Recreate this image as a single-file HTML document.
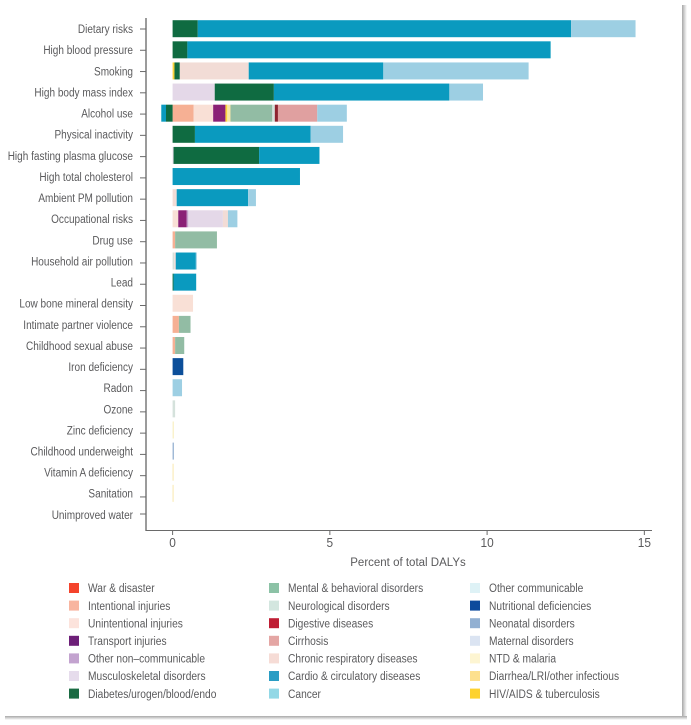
<!DOCTYPE html>
<html lang="en">
<head>
<meta charset="utf-8">
<title>Percent of total DALYs by risk factor</title>
<style>
  html, body { margin: 0; padding: 0; background: #fff; width: 691px; height: 725px; overflow: hidden; }
  #chart { position: absolute; left: 0; top: 0; filter: blur(0.35px); }
  text { font-family: "Liberation Sans", sans-serif; fill: #5a5a5c; }
</style>
</head>
<body>
<svg id="chart" width="691" height="725" viewBox="0 0 691 725" xmlns="http://www.w3.org/2000/svg">
  <defs>
    <linearGradient id="shadow-right" x1="0" x2="1" y1="0" y2="0">
      <stop offset="0" stop-color="#a8a8a8"/><stop offset="1" stop-color="#ffffff"/>
    </linearGradient>
    <linearGradient id="shadow-bottom" x1="0" x2="0" y1="0" y2="1">
      <stop offset="0" stop-color="#a8a8a8"/><stop offset="1" stop-color="#ffffff"/>
    </linearGradient>
  </defs>
  <rect x="682" y="5" width="5" height="714" fill="url(#shadow-right)"/>
  <rect x="5" y="716" width="682" height="4" fill="url(#shadow-bottom)"/>
  <g id="bars"></g>
  <g id="axes"></g>
  <g id="legend"></g>
</svg>
<script>
const risks = ["Dietary risks","High blood pressure","Smoking","High body mass index","Alcohol use","Physical inactivity","High fasting plasma glucose","High total cholesterol","Ambient PM pollution","Occupational risks","Drug use","Household air pollution","Lead","Low bone mineral density","Intimate partner violence","Childhood sexual abuse","Iron deficiency","Radon","Ozone","Zinc deficiency","Childhood underweight","Vitamin A deficiency","Sanitation","Unimproved water"];
const xTicks = [0, 5, 10, 15];
const xTitle = "Percent of total DALYs";

// One value per risk, in the order of `risks` (percent of total DALYs).
const intentional   = [0,0,0,0,0.67,0,0,0,0,0,0.08,0,0,0,0.20,0.08,0,0,0,0,0,0,0,0];
const unintentional = [0,0,0,0,0.62,0,0,0,0,0.18,0,0,0,0.65,0,0,0,0,0,0,0,0,0,0];
const transport     = [0,0,0,0,0.39,0,0,0,0,0.27,0,0,0,0,0,0,0,0,0,0,0,0,0,0];
const otherNcd      = [0,0,0,0,0,0,0,0,0,0.05,0,0,0,0,0,0,0,0,0,0,0,0,0,0];
const musculo       = [0,0,0,1.34,0,0,0.03,0,0,1.10,0,0,0,0,0,0,0,0,0,0,0,0,0,0];
const hiv           = [0,0,0.06,0,0.06,0,0,0,0,0,0,0,0,0,0,0,0,0,0,0,0,0,0,0];
const diarrhea      = [0,0,0,0,0.10,0,0,0,0,0,0,0,0,0,0,0,0,0,0,0,0,0.03,0.03,0];
const diabetes      = [0.80,0.47,0.17,1.88,-0.21,0.71,2.72,0,0,0,0,0,0.03,0,0,0,0,0,0,0,0,0,0,0];
const mental        = [0,0,0,0,1.33,0,0,0,0,0,1.33,0,0,0,0.37,0.29,0,0,0,0,0,0,0,0];
const neuro         = [0,0,0,0,0.08,0,0,0,0,0,0,0.05,0,0,0,0,0,0,0.08,0,0,0,0,0];
const digestive     = [0,0,0,0,0.10,0,0,0,0,0,0,0,0,0,0,0,0,0,0,0,0,0,0,0];
const cirrhosis     = [0,0,0,0,1.25,0,0,0,0,0,0,0,0,0,0,0,0,0,0,0,0,0,0,0];
const chronicResp   = [0,0,2.19,0,0,0,0,0,0.13,0.16,0,0.05,0,0,0,0,0,0,0,0,0,0,0,0];
const cardio        = [11.87,11.55,4.28,5.58,-0.15,3.68,1.92,4.05,2.27,0,0,0.64,0.72,0,0,0,0,0,0,0,0,0,0,0];
const cancer        = [2.05,0,4.62,1.07,0.94,1.03,0,0,0.25,0.30,0,0.03,0,0,0,0,0,0.30,0,0,0,0,0,0];
const nutritional   = [0,0,0,0,0,0,0,0,0,0,0,0,0,0,0,0,0.34,0,0,0,0,0,0,0];
const neonatal      = [0,0,0,0,0,0,0,0,0,0,0,0,0,0,0,0,0,0,0,0,0.04,0,0,0];
const ntd           = [0,0,0,0,0,0,0,0,0,0,0,0,0,0,0,0,0,0,0,0.04,0,0,0,0];

const stackOrder = [
  [intentional,"#f6b094"],[unintentional,"#f9e0d6"],[transport,"#8a2176"],[otherNcd,"#c3a0cb"],
  [musculo,"#e4d8e8"],[hiv,"#fad33c"],[diarrhea,"#f8e7a8"],[diabetes,"#0f6b41"],
  [mental,"#92bca4"],[neuro,"#d5e2dc"],[digestive,"#8e2430"],[cirrhosis,"#e0a0a0"],
  [chronicResp,"#f2dcd6"],[cardio,"#0a9abf"],[cancer,"#9dcfe3"],[nutritional,"#0c4f9a"],
  [neonatal,"#92aecf"],[ntd,"#f9f0c4"]
];

const legendLabels = ["War & disaster","Intentional injuries","Unintentional injuries","Transport injuries","Other non\u2013communicable","Musculoskeletal disorders","Diabetes/urogen/blood/endo","Mental & behavioral disorders","Neurological disorders","Digestive diseases","Cirrhosis","Chronic respiratory diseases","Cardio & circulatory diseases","Cancer","Other communicable","Nutritional deficiencies","Neonatal disorders","Maternal disorders","NTD & malaria","Diarrhea/LRI/other infectious","HIV/AIDS & tuberculosis"];
const legendColors = ["#f4432c","#f8b5a0","#fce3dc","#6d1f78","#c3a3cf","#e6dcec","#1a6b43","#8cc2a6","#d3e6df","#bf1e34","#e4a6a4","#f6dcd6","#2a9dc4","#92d8e6","#def2f6","#0c4a9c","#92b0d2","#dbe4f2","#fdf5d2","#fde08e","#fdd22f"];

const NS = "http://www.w3.org/2000/svg";
const xScale = v => 172.6 + v * 31.45;
const yScale = i => 28.7 + i * 21.12;
const tickY = i => (i === risks.length - 1 ? 514 : 29 + i * 21.27);
const BAR_H = 17;
function make(tag, attrs, parent) {
  const el = document.createElementNS(NS, tag);
  for (const k in attrs) el.setAttribute(k, attrs[k]);
  parent.appendChild(el);
  return el;
}
function squeezed(x, y, sx, size, anchor, parent) {
  return make("text", {transform: `translate(${x} ${y}) scale(${sx} 1)`, "text-anchor": anchor, "font-size": size}, parent);
}

// Bars
const barsG = document.getElementById("bars");
risks.forEach((risk, r) => {
  let pos = 0, neg = 0;
  stackOrder.forEach(([series, color]) => {
    const v = series[r];
    if (!v) return;
    let a, b;
    if (v > 0) { a = pos; pos += v; b = pos; } else { b = neg; neg += v; a = neg; }
    const seg = make("rect", {x: xScale(a), y: yScale(r) - BAR_H / 2, width: Math.max(xScale(b) - xScale(a), 0.5), height: BAR_H, fill: color}, barsG);
    
    
  });
});

// Axes
const axesG = document.getElementById("axes");
const yLine = make("line", {x1: 146, x2: 146, y1: 18, y2: 531, stroke: "#9b9b9b", "stroke-width": 2}, axesG);


const xLine = make("line", {x1: 146, x2: 652, y1: 530.5, y2: 530.5, stroke: "#6a6a6a", "stroke-width": 1}, axesG);



risks.forEach((risk, r) => {
  const tick = make("line", {x1: 140, x2: 146, y1: tickY(r), y2: tickY(r), stroke: "#6a6a6a", "stroke-width": 1}, axesG);
  
  
  const label = squeezed(133, yScale(r) + 4.4, 0.822, 12.2, "end", axesG);
  label.textContent = risk;
  
  
});

xTicks.forEach(t => {
  const tick = make("line", {x1: xScale(t), x2: xScale(t), y1: 531, y2: 535, stroke: "#6a6a6a", "stroke-width": 1}, axesG);
  
  
  const label = squeezed(xScale(t), 547, 0.95, 12.5, "middle", axesG);
  label.textContent = t;
  
  
});

const title = make("text", {x: 408, y: 566, "text-anchor": "middle", "font-size": 11.5}, axesG);
title.textContent = xTitle;



// Legend
const legendG = document.getElementById("legend");
const legendCols = [69, 269, 470];
legendLabels.forEach((text, i) => {
  const col = Math.floor(i / 7), row = i % 7;
  const cy = 588 + row * 17.6;
  const swatch = make("rect", {x: legendCols[col], y: cy - 5, width: 10, height: 10, fill: legendColors[i]}, legendG);
  
  
  const label = squeezed(legendCols[col] + 19, cy + 4.2, 0.838, 12.2, "start", legendG);
  label.textContent = text;
  
  
});
</script>
</body>
</html>
